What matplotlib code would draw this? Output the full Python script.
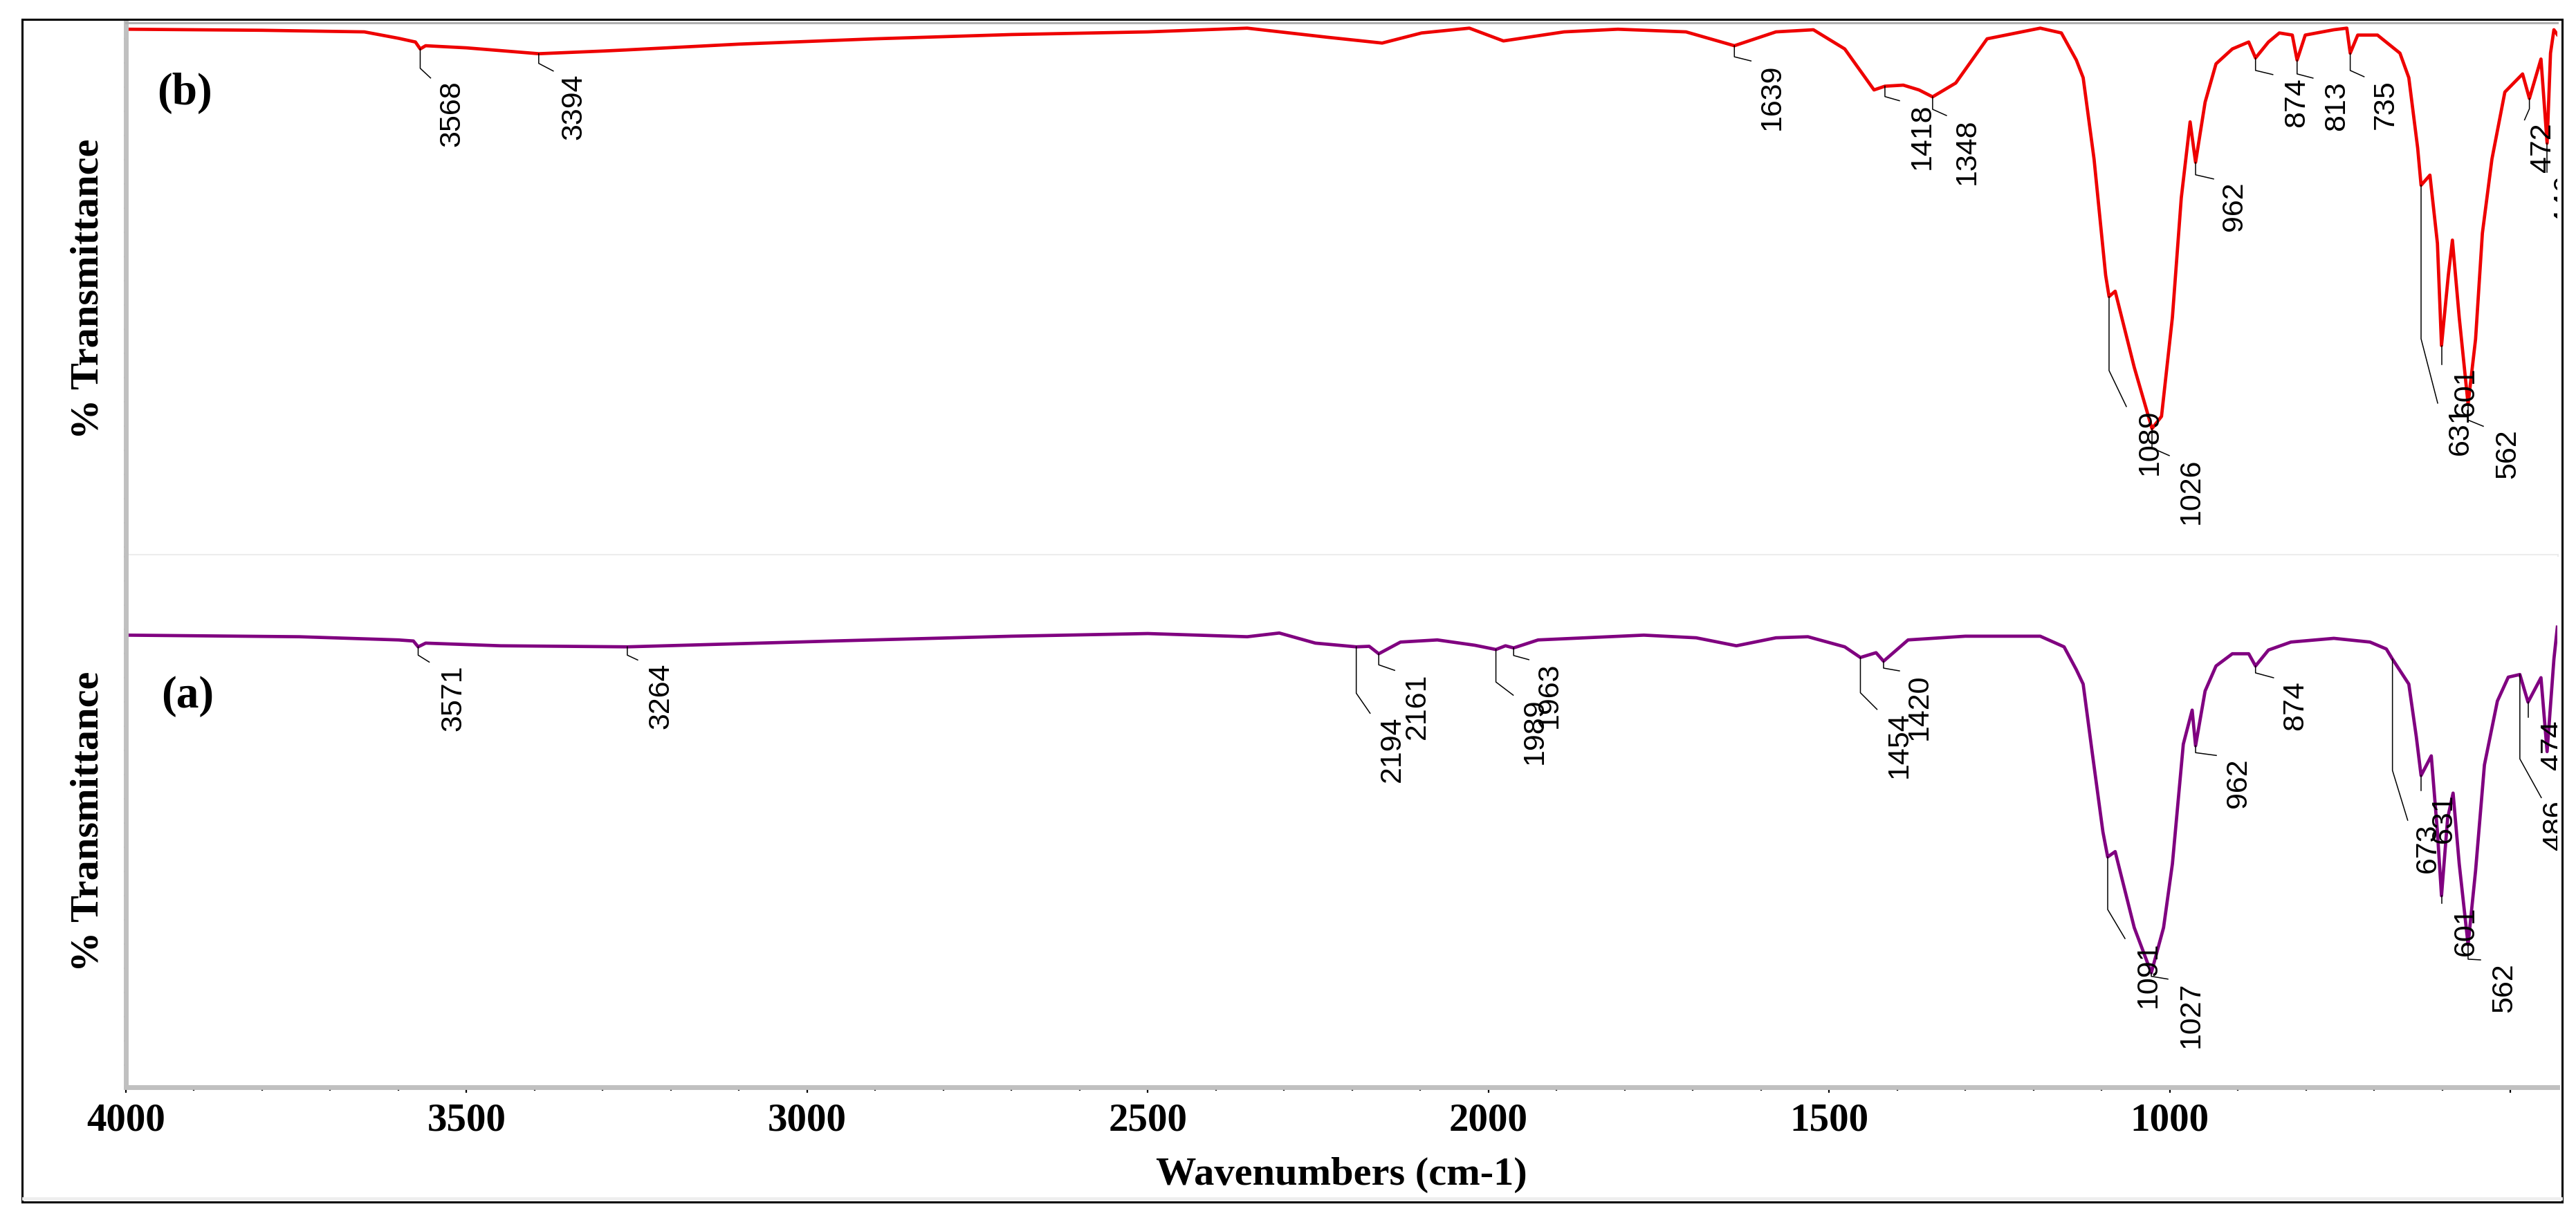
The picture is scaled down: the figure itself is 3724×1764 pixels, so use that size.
import numpy as np
import matplotlib
matplotlib.use('Agg')
import matplotlib.pyplot as plt
from matplotlib.patches import Rectangle
from matplotlib.lines import Line2D

plt.rcParams['font.family'] = ['Liberation Serif', 'DejaVu Serif']
plt.rcParams['font.weight'] = 'bold'
plt.rcParams['axes.labelweight'] = 'bold'

# spectrum (b) - top panel
wn_b = [4000, 3800, 3650, 3600, 3575, 3568, 3560, 3500, 3394, 3300, 3267, 3100, 2900, 2700,
        2500, 2354, 2237, 2156, 2098, 2028, 1978, 1889, 1810, 1710, 1639, 1578, 1523, 1477,
        1434, 1418, 1391, 1368, 1348, 1314, 1268, 1190, 1159, 1137, 1127, 1111, 1094, 1089,
        1080, 1052, 1026, 1012, 996, 983, 970, 962, 948, 932, 908, 884, 874, 855, 839, 820,
        813, 801, 759, 740, 735, 724, 695, 662, 649, 636, 631, 618, 607, 601, 591, 585, 575,
        562, 551, 541, 527, 508, 482, 472, 455, 446, 441, 436, 431]
t_b = [98.8, 98.6, 98.3, 97.1, 96.4, 95.1, 95.7, 95.3, 94.2, 94.7, 94.9, 96.0, 97.0, 97.8,
       98.3, 99.0, 97.3, 96.2, 98.1, 99.0, 96.6, 98.3, 98.8, 98.3, 95.7, 98.3, 98.7, 95.1,
       87.4, 88.1, 88.3, 87.4, 86.1, 88.7, 97.0, 99.0, 98.1, 93.0, 89.7, 74.4, 52.6, 48.6,
       49.6, 35.3, 23.8, 26.1, 44.7, 67.1, 81.4, 73.8, 85.1, 92.3, 95.1, 96.4, 93.4, 96.4, 98.1, 97.7,
       93.0, 97.7, 98.7, 99.0, 94.3, 97.7, 97.7, 94.3, 89.7, 76.5, 69.5, 71.4, 58.6, 39.4, 52.6, 59.2, 44.7,
       28.4, 40.6, 60.5, 74.4, 87.0, 90.4, 85.8, 93.2, 77.4, 94.3, 98.7, 97.8]

# spectrum (a) - bottom panel
wn_a = [4000, 3745, 3600, 3578, 3571, 3560, 3450, 3264, 3015, 2962, 2700, 2500, 2354, 2307,
        2254, 2194, 2175, 2161, 2129, 2075, 2020, 1989, 1975, 1963, 1927, 1772, 1695, 1636,
        1578, 1531, 1477, 1454, 1431, 1420, 1384, 1300, 1190, 1155, 1137, 1127, 1114, 1098,
        1091, 1080, 1052, 1027, 1009, 996, 980, 967, 962, 948, 932, 908, 884, 874, 855, 822,
        759, 706, 682, 673, 649, 638, 631, 616, 607, 601, 592, 584, 575, 562, 551, 538, 519,
        503, 486, 474, 455, 446, 436, 431]
t_a = [85.0, 84.7, 84.1, 83.9, 82.8, 83.5, 83.0, 82.8, 83.7, 83.9, 84.8, 85.3, 84.7, 85.4,
       83.5, 82.8, 82.9, 81.5, 83.7, 84.1, 83.1, 82.3, 83.0, 82.6, 84.1, 85.0, 84.5, 83.0,
       84.5, 84.7, 82.8, 80.8, 81.7, 80.1, 84.1, 84.8, 84.8, 82.8, 78.5, 75.8, 63.2, 48.0,
       43.3, 44.3, 30.0, 21.5, 30.0, 42.0, 64.5, 70.9, 64.2, 74.5, 79.2, 81.5, 81.5, 79.2, 82.2, 83.7,
       84.4, 83.7, 82.4, 80.5, 75.8, 65.9, 58.6, 62.3, 48.0, 36.0, 50.6, 55.3, 42.0, 26.8, 40.7, 60.6, 72.6,
       77.1, 77.6, 72.4, 77.0, 63.1, 80.5, 86.5]

peaks_b = [3568, 3394, 1639, 1418, 1348, 1089, 1026, 962, 874, 813, 735, 631, 601, 562, 472, 446]
peaks_a = [3571, 3264, 2194, 2161, 1989, 1963, 1454, 1420, 1091, 1027, 962, 874, 673, 631,
           601, 562, 474, 486]

x_major = [4000, 3500, 3000, 2500, 2000, 1500, 1000, 500]
x_labels = ['4000', '3500', '3000', '2500', '2000', '1500', '1000', '']

# leader layout in pixels: vertical drop, diagonal drop, diagonal dx, text dx
lead_b = [(28, 14, 15, 46), (14, 11, 21, 51), (16, 6, 24, 54), (15, 6, 21, 54), (18, 9, 20, 50),
          (107, 52, 25, 59), (28, 11, 25, 57), (18, 6, 26, 56), (18, 6, 25, 59), (20, 6, 23, 57),
          (25, 9, 20, 51), (222, 93, 24, 57), (23, 4, 0, 35), (23, 9, 22, 57), (15, 16, -7, 19),
          (20, 22, 0, 28)]
lead_a = [(12, 10, 16, 51), (12, 7, 15, 49), (67, 29, 20, 52), (16, 8, 23, 56), (47, 19, 25, 56),
          (11, 6, 22, 52), (51, 24, 24, 56), (10, 4, 23, 52), (76, 42, 25, 59), (5, 4, 24, 58),
          (10, 4, 30, 62), (10, 7, 26, 57), (161, 72, 22, 51), (18, 4, 0, 33), (8, 3, 0, 35),
          (21, 1, 18, 52), (22, 0, 0, 36), (122, 56, 31, 51)]

W, H = 3724, 1764
fig = plt.figure(figsize=(W / 100, H / 100), dpi=100)

x0, x1 = 182, 3697
ax_b = fig.add_axes([x0 / W, (H - 803) / H, (x1 - x0) / W, 770 / H])
ax_a = fig.add_axes([x0 / W, (H - 1572) / H, (x1 - x0) / W, 769 / H])

axis_grey = '#c0c0c0'


def style_axis(ax, bottom_axis):
    ax.set_xlim(4000, 431)
    ax.set_ylim(0, 100)
    ax.spines['right'].set_visible(False)
    ax.spines['left'].set_color(axis_grey)
    ax.spines['left'].set_linewidth(5)
    ax.set_yticklabels([])
    ax.tick_params(axis='y', direction='inout', length=4.5, width=1.6, color='black')
    if bottom_axis:
        ax.spines['top'].set_visible(False)
        ax.spines['bottom'].set_color(axis_grey)
        ax.spines['bottom'].set_linewidth(5)
        ax.set_xticks(x_major)
        ax.set_xticklabels(x_labels)
        ax.set_xticks(np.arange(4000, 431, -100), minor=True)
        ax.tick_params(axis='x', which='major', direction='out', length=6, width=1.6,
                       pad=10, labelsize=41)
        ax.tick_params(axis='x', which='minor', direction='out', length=3.5, width=1.6)
    else:
        ax.spines['top'].set_color('#b0b0b0')
        ax.spines['top'].set_linewidth(2.2)
        ax.spines['bottom'].set_color('#ececec')
        ax.spines['bottom'].set_linewidth(3)
        ax.tick_params(axis='x', which='both', bottom=False, labelbottom=False)


style_axis(ax_b, False)
style_axis(ax_a, True)
ax_b.set_yticks(np.arange(1.56, 100, 4.545))
ax_a.set_yticks(np.arange(4.16, 100, 4.55))

ax_b.plot(wn_b, t_b, color='#ee0000', lw=3.4)
ax_a.plot(wn_a, t_a, color='#800080', lw=3.4)


def label_peaks(ax, wn, t, peaks, layout):
    wn_r = np.array(wn[::-1], dtype=float)
    t_r = np.array(t[::-1], dtype=float)
    inv = ax.transData.inverted()
    for p, (vd, dd, ddx, tdx) in zip(peaks, layout):
        y0 = np.interp(p, wn_r, t_r)
        px, py = ax.transData.transform((p, y0))
        pts = np.array([(px, py), (px, py - vd), (px + ddx, py - vd - dd)])
        d = inv.transform(pts)
        ax.plot(d[:, 0], d[:, 1], color='black', lw=1.1)
        tx, ty = inv.transform((px + tdx, py - vd - dd - 4))
        txt = ax.text(tx, ty, str(p), rotation=90, ha='center', va='top', fontsize=31,
                      family='Liberation Sans', fontweight='normal')
        txt.set_clip_box(ax.bbox)
        txt.set_clip_on(True)


label_peaks(ax_b, wn_b, t_b, peaks_b, lead_b)
label_peaks(ax_a, wn_a, t_a, peaks_a, lead_a)

ax_b.text(0.0128, 0.8675, '(b)', transform=ax_b.transAxes, fontsize=47, va='center', ha='left')
ax_a.text(0.0145, 0.7347, '(a)', transform=ax_a.transAxes, fontsize=47, va='center', ha='left')

for ax in (ax_b, ax_a):
    ax.set_ylabel('% Transmittance', fontsize=42, fontweight='bold', va='center')
    ax.yaxis.set_label_coords((128 - x0) / (x1 - x0), 0.5)

ax_a.set_xlabel('Wavenumbers (cm-1)', fontsize=42, fontweight='bold')
ax_a.xaxis.set_label_coords(0.5, -101 / 769)

# outer frame
fig.add_artist(Rectangle((32 / W, (H - 1738) / H), (3704 - 32) / W, (1738 - 28) / H,
                         transform=fig.transFigure, fill=False, edgecolor='black', lw=2.2))
fig.add_artist(Line2D([34 / W, 3702 / W], [(H - 1733) / H] * 2, transform=fig.transFigure,
                      color='#eeeeee', lw=3.5))

fig.savefig('out.png', dpi=100)
